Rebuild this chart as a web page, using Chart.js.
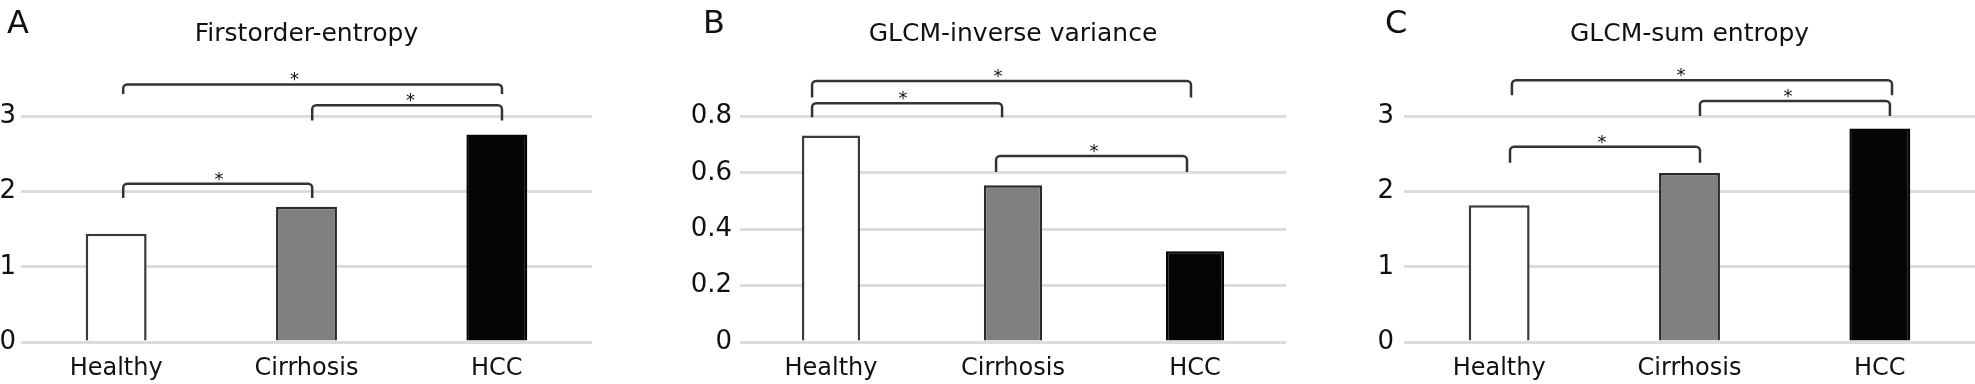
<!DOCTYPE html>
<html><head><meta charset="utf-8">
<script src="https://cdn.jsdelivr.net/npm/chart.js@4.4.1/dist/chart.umd.min.js"></script>
<style>
html,body{margin:0;padding:0;background:#fff;}
#wrap{position:relative;width:1975px;height:384px;overflow:hidden;background:#fff;}
.panel{position:absolute;top:0;height:384px;}
.letter{position:absolute;font-family:"DejaVu Sans";font-size:32px;line-height:32px;color:#111;}
</style></head><body>
<div id="wrap">
  <div class="panel" style="left:0px;width:660px"><canvas id="cA" width="660" height="384"></canvas></div>
  <div class="panel" style="left:660px;width:660px"><canvas id="cB" width="660" height="384"></canvas></div>
  <div class="panel" style="left:1315px;width:660px"><canvas id="cC" width="660" height="384"></canvas></div>
  <div class="letter" style="left:7px;top:6px">A</div>
  <div class="letter" style="left:703px;top:6px">B</div>
  <div class="letter" style="left:1385px;top:6px">C</div>
</div>
<script>
// ---- data ----
const categories = ['Healthy', 'Cirrhosis', 'HCC'];
const titles = ['Firstorder-entropy', 'GLCM-inverse variance', 'GLCM-sum entropy'];
const valuesA = [1.44, 1.80, 2.76];
const valuesB = [0.733, 0.556, 0.322];
const valuesC = [1.82, 2.25, 2.84];
const ticksA = [0, 1, 2, 3];
const ticksB = [0, 0.2, 0.4, 0.6, 0.8];
const ticksC = [0, 1, 2, 3];
const tickLabelsB = ['0', '0.2', '0.4', '0.6', '0.8'];
// significance brackets: [from, to, line level, tip level, star position], '*' marks p<0.05
const bracketsA = [[0.037, 2.027, 3.427, 3.30, 0.937], [1.03, 2.027, 3.15, 2.947, 1.546], [0.037, 1.03, 2.107, 1.916, 0.54]];
const bracketsB = [[-0.104, 1.978, 0.9266, 0.8676, 0.918], [-0.104, 0.94, 0.847, 0.7975, 0.396], [0.907, 1.956, 0.66, 0.603, 1.445]];
const bracketsC = [[0.067, 2.064, 3.484, 3.284, 0.955], [1.055, 2.053, 3.208, 3.008, 1.517], [0.057, 1.055, 2.60, 2.387, 0.54]];
const starMark = '*';

// ---- styles ----
const FONT = '"DejaVu Sans", sans-serif';
const barFill = ['#ffffff', '#808080', '#050505'];
const barBorder = ['#3a3a3a', '#2a2a2a', '#050505'];

const bracketPlugin = {
  id: 'brackets',
  afterDatasetsDraw(chart, args, opts) {
    const ctx = chart.ctx, xs = chart.scales.x, ys = chart.scales.y;
    ctx.save();
    ctx.strokeStyle = '#333';
    ctx.lineWidth = 2.5;
    ctx.lineJoin = 'round';
    ctx.fillStyle = '#111';
    ctx.font = '18px ' + FONT;
    ctx.textAlign = 'center';
    ctx.textBaseline = 'alphabetic';
    for (const b of opts.items) {
      const x1 = xs.getPixelForValue(b[0]);
      const x2 = xs.getPixelForValue(b[1]);
      const yl = ys.getPixelForValue(b[2]);
      const yt = ys.getPixelForValue(b[3]);
      const r = 4;
      ctx.beginPath();
      ctx.moveTo(x1, yt);
      ctx.arcTo(x1, yl, x2, yl, r);
      ctx.arcTo(x2, yl, x2, yt, r);
      ctx.lineTo(x2, yt);
      ctx.stroke();
      ctx.fillText(starMark, xs.getPixelForValue(b[4]), yl + 1);
    }
    ctx.restore();
  }
};

function makeChart(id, values, tickVals, tickLabels, maxV, title, brackets, yWidth, yPad, rightPad) {
  return new Chart(document.getElementById(id), {
    type: 'bar',
    data: {
      labels: categories,
      datasets: [{
        data: values,
        backgroundColor: barFill,
        borderColor: barBorder,
        borderWidth: 2.5,
        borderSkipped: 'start',
        barPercentage: 0.32,
        categoryPercentage: 1
      }]
    },
    options: {
      responsive: false,
      animation: false,
      devicePixelRatio: 1,
      layout: { padding: { left: 0, right: rightPad, top: 0, bottom: 0 } },
      plugins: {
        legend: { display: false },
        tooltip: { enabled: false },
        title: {
          display: true, text: title, fullSize: false, color: '#111',
          font: { family: FONT, size: 25, weight: 'normal' },
          padding: { top: 19, bottom: 30 }
        },
        brackets: { items: brackets }
      },
      scales: {
        x: {
          grid: { display: false },
          border: { display: false },
          ticks: { color: '#111', font: { family: FONT, size: 24 }, padding: 4, maxRotation: 0 },
          afterFit(s) { s.height = 42; }
        },
        y: {
          min: 0, max: maxV,
          grid: { color: '#dcdcdc', lineWidth: 3, drawTicks: false },
          border: { display: false },
          afterBuildTicks(s) { s.ticks = tickVals.map(v => ({ value: v })); },
          ticks: {
            color: '#111', font: { family: FONT, size: 26 }, padding: yPad,
            callback(v) { const i = tickVals.indexOf(v); return i >= 0 ? tickLabels[i] : ''; }
          },
          afterFit(s) { s.width = yWidth; }
        }
      }
    },
    plugins: [bracketPlugin]
  });
}

makeChart('cA', valuesA, ticksA, ticksA.map(String), 3.5, titles[0], bracketsA, 21, 5, 68);
makeChart('cB', valuesB, ticksB, tickLabelsB, 0.9333, titles[1], bracketsB, 80, 8, 34);
makeChart('cC', valuesC, ticksC, ticksC.map(String), 3.5, titles[2], bracketsC, 89, 10, 0);
</script>
</body></html>
